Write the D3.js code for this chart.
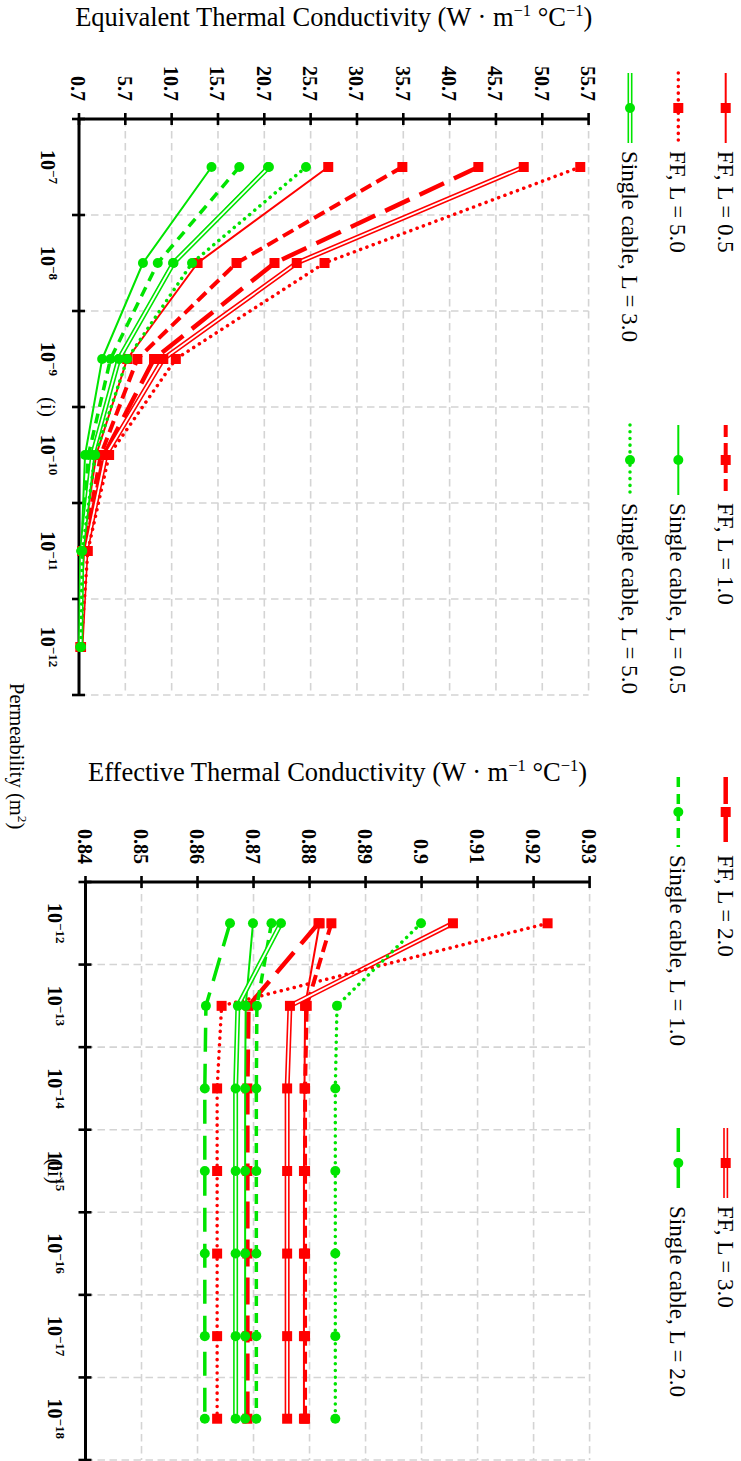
<!DOCTYPE html>
<html>
<head>
<meta charset="utf-8">
<script src="https://cdn.jsdelivr.net/npm/d3@7/dist/d3.min.js"></script>
<style>
html,body{margin:0;padding:0;background:#fff;}
svg{display:block;}
text{font-family:"Liberation Serif","Times New Roman",serif;fill:#000;}
</style>
</head>
<body>
<svg id="chart" width="741" height="1461"></svg>
<script>
// ---------------- DATA ----------------
// permeability categories: 10^exp m^2
const exponents = ["−7","−8","−9","−10","−11","−12","−13","−14","−15","−16","−17","−18"];
const panel1Cats = exponents.slice(0, 6);   // 10^-7 ... 10^-12
const panel2Cats = exponents.slice(5);      // 10^-12 ... 10^-18

const seriesNames = ["FF, L = 0.5", "FF, L = 1.0", "FF, L = 2.0", "FF, L = 3.0", "FF, L = 5.0",
  "Single cable, L = 0.5", "Single cable, L = 1.0", "Single cable, L = 2.0", "Single cable, L = 3.0", "Single cable, L = 5.0"];

// conductivity values, one per permeability category (10^-7 ... 10^-18)
const ff05 = [27.6, 13.5, 5.9, 2.55, 1.05, 0.8818, 0.8792, 0.8791, 0.8790, 0.8790, 0.8790, 0.8790];
const ff10 = [35.6, 17.7, 7.0, 3.05, 1.2, 0.8839, 0.8795, 0.8792, 0.8792, 0.8792, 0.8792, 0.8792];
const ff20 = [43.8, 21.8, 8.8, 3.4, 1.35, 0.8816, 0.8691, 0.8689, 0.8689, 0.8689, 0.8689, 0.8689];
const ff30 = [48.7, 24.2, 9.8, 3.6, 1.45, 0.9056, 0.8765, 0.8760, 0.8760, 0.8760, 0.8760, 0.8760];
const ff50 = [54.8, 27.2, 11.15, 3.95, 1.65, 0.9225, 0.8643, 0.8635, 0.8635, 0.8635, 0.8635, 0.8635];
const sc05 = [15.0, 7.6, 3.2, 1.35, 0.95, 0.8699, 0.8686, 0.8685, 0.8685, 0.8685, 0.8685, 0.8685];
const sc10 = [18.0, 9.2, 4.1, 1.72, 0.97, 0.8732, 0.8706, 0.8705, 0.8705, 0.8705, 0.8705, 0.8705];
const sc20 = [21.1, 10.85, 5.0, 2.12, 0.99, 0.8658, 0.8615, 0.8613, 0.8613, 0.8613, 0.8613, 0.8613];
const sc30 = [21.2, 10.9, 5.0, 2.16, 1.0, 0.8749, 0.8672, 0.8668, 0.8668, 0.8668, 0.8668, 0.8668];
const sc50 = [25.2, 12.9, 5.9, 2.45, 1.05, 0.8999, 0.8849, 0.8846, 0.8846, 0.8846, 0.8846, 0.8846];
const seriesValues = [ff05, ff10, ff20, ff30, ff50, sc05, sc10, sc20, sc30, sc50];

const yTicks1 = [0.7, 5.7, 10.7, 15.7, 20.7, 25.7, 30.7, 35.7, 40.7, 45.7, 50.7, 55.7];
const yTickLabels1 = ["0.7", "5.7", "10.7", "15.7", "20.7", "25.7", "30.7", "35.7", "40.7", "45.7", "50.7", "55.7"];
const yTicks2 = [0.84, 0.85, 0.86, 0.87, 0.88, 0.89, 0.90, 0.91, 0.92, 0.93];
const yTickLabels2 = ["0.84", "0.85", "0.86", "0.87", "0.88", "0.89", "0.9", "0.91", "0.92", "0.93"];

// ---------------- STYLES ----------------
const RED = "#ff0000", GREEN = "#00e400";
const styles = [
  {color: RED, width: 2, marker: "square"},
  {color: RED, width: 4, dash: "12,6", marker: "square"},
  {color: RED, width: 4.5, dash: "27,11", marker: "square"},
  {color: RED, width: 5, double: true, marker: "square"},
  {color: RED, width: 3.5, dotted: true, marker: "square"},
  {color: GREEN, width: 2, marker: "circle"},
  {color: GREEN, width: 3.5, dash: "10,7", marker: "circle"},
  {color: GREEN, width: 3.5, dash: "24,12", marker: "circle"},
  {color: GREEN, width: 5, double: true, marker: "circle"},
  {color: GREEN, width: 3.5, dotted: true, marker: "circle"}
];

// ---------------- FRAME (drawn landscape, rotated 90deg clockwise) ----------------
const svg = d3.select("#chart");
const root = svg.append("g").attr("transform", "translate(741,0) rotate(90)");

function strokePath(sel, st, d) {
  if (st.double) {
    sel.append("path").attr("d", d).attr("fill", "none").attr("stroke", st.color)
      .attr("stroke-width", st.width).attr("stroke-linejoin", "round");
    sel.append("path").attr("d", d).attr("fill", "none").attr("stroke", "#fff")
      .attr("stroke-width", st.width - 3.2).attr("stroke-linejoin", "round");
  } else {
    const p = sel.append("path").attr("d", d).attr("fill", "none").attr("stroke", st.color)
      .attr("stroke-width", st.width).attr("stroke-linejoin", "round");
    if (st.dash) p.attr("stroke-dasharray", st.dash);
    if (st.dotted) p.attr("stroke-dasharray", "0.1,6.6").attr("stroke-linecap", "round");
  }
}
function drawMarker(sel, st, x, y) {
  if (st.marker === "square") {
    sel.append("rect").attr("x", x - 5).attr("y", y - 5).attr("width", 10).attr("height", 10).attr("fill", st.color);
  } else {
    sel.append("circle").attr("cx", x).attr("cy", y).attr("r", 5).attr("fill", st.color);
  }
}
// text with superscript parts: parts = [[text, isSup], ...]
function richText(t, parts, base, sup) {
  let raised = false;
  parts.forEach(([s, isSup]) => {
    const ts = t.append("tspan").text(s);
    if (isSup) { ts.attr("font-size", sup); if (!raised) { ts.attr("dy", -base * 0.38); raised = true; } }
    else { ts.attr("font-size", base); if (raised) { ts.attr("dy", base * 0.38); raised = false; } }
  });
}

function drawPanel(cfg) {
  const g = root.append("g");
  const x = d3.scaleBand().domain(cfg.cats).range([cfg.x0, cfg.x1]).padding(0);
  const y = d3.scaleLinear().domain(cfg.domain).range([cfg.yb, cfg.yt]);
  const bounds = cfg.cats.map(c => x(c)).concat([cfg.x1]);

  // grid
  const grid = g.append("g").attr("stroke", "#d4d4d4").attr("stroke-width", 1.6).attr("stroke-dasharray", "7.5,4.5");
  bounds.forEach(b => grid.append("line").attr("x1", b).attr("x2", b).attr("y1", cfg.yb).attr("y2", cfg.yt));
  cfg.ticks.forEach(t => grid.append("line").attr("x1", cfg.x0).attr("x2", cfg.x1).attr("y1", y(t)).attr("y2", y(t)));

  // value axis labels
  const ya = d3.axisLeft(y).tickValues(cfg.ticks).tickFormat((d, i) => cfg.tickLabels[i]).tickSize(0).tickPadding(18);
  const yg = g.append("g").attr("transform", `translate(${cfg.x0},0)`).call(ya);
  yg.select(".domain").remove();
  yg.selectAll("text").attr("font-family", "Liberation Serif").attr("font-weight", "bold").attr("font-size", 20).attr("dy", "0.36em");

  // category labels
  const xa = d3.axisBottom(x).tickSize(0).tickFormat("");
  const xg = g.append("g").attr("transform", `translate(0,${cfg.yb})`).call(xa);
  xg.select(".domain").remove();
  xg.selectAll(".tick text").each(function(d) {
    const t = d3.select(this).attr("y", cfg.labelOff).attr("dy", 0)
      .attr("font-family", "Liberation Serif").attr("font-weight", "bold").attr("font-size", 20);
    t.append("tspan").text("10");
    t.append("tspan").text(d).attr("font-size", 13).attr("dy", -8);
  });

  // axis lines + crossing ticks
  const ax = g.append("g").attr("stroke", "#000");
  ax.append("line").attr("x1", cfg.x0).attr("x2", cfg.x1).attr("y1", cfg.yb).attr("y2", cfg.yb).attr("stroke-width", 3);
  ax.append("line").attr("x1", cfg.x0).attr("x2", cfg.x0).attr("y1", cfg.yb + 1.5).attr("y2", cfg.yt).attr("stroke-width", 3);
  bounds.forEach(b => ax.append("line").attr("x1", b).attr("x2", b).attr("y1", cfg.yb - 6).attr("y2", cfg.yb + 7).attr("stroke-width", 2.6));
  cfg.ticks.forEach(t => ax.append("line").attr("x1", cfg.x0 - 6).attr("x2", cfg.x0 + 6).attr("y1", y(t)).attr("y2", y(t)).attr("stroke-width", 2.6));

  // series
  const line = d3.line().x(d => x(d.c) + x.bandwidth() / 2).y(d => y(d.v));
  seriesValues.forEach((vals, si) => {
    const st = styles[si];
    const pts = cfg.cats.map((c, i) => ({c, v: vals[cfg.offset + i]}));
    const sg = g.append("g");
    strokePath(sg, st, line(pts));
    pts.forEach(p => drawMarker(sg, st, x(p.c) + x.bandwidth() / 2, y(p.v)));
  });

  // titles
  g.append("text").attr("transform", `translate(${cfg.titleX},${(cfg.yb + cfg.yt) / 2}) rotate(-90)`)
    .attr("text-anchor", "middle")
    .call(t => richText(t, [[cfg.title + " (W · m", false], ["−1", true], [" °C", false], ["−1", true], [")", false]], 26.5, 16.5));
  g.append("text").attr("x", (cfg.x0 + cfg.x1) / 2).attr("y", cfg.yb + cfg.labelOff)
    .attr("text-anchor", "middle").attr("font-size", 21).text(cfg.tag);
}

drawPanel({cats: panel1Cats, offset: 0, x0: 119, x1: 695, yb: 662, yt: 152.4, domain: [0.7, 55.7],
  ticks: yTicks1, tickLabels: yTickLabels1, labelOff: 38, titleX: 26,
  title: "Equivalent Thermal Conductivity", tag: "(i)"});
drawPanel({cats: panel2Cats, offset: 5, x0: 882, x1: 1460, yb: 655.5, yt: 151.4, domain: [0.84, 0.93],
  ticks: yTicks2, tickLabels: yTickLabels2, labelOff: 38, titleX: 781,
  title: "Effective Thermal Conductivity", tag: "(ii)"});

// x-axis title
root.append("text").attr("x", 683).attr("y", 731).attr("text-anchor", "start")
  .call(t => richText(t, [["Permeability (m", false], ["2", true], [")", false]], 20.5, 13.5));

// legend
const legRows = [15.3, 62.7, 111];
const legCols = [73, 425, 777, 1128];
const leg = root.append("g");
seriesNames.forEach((name, i) => {
  const st = styles[i];
  const lx = legCols[i % 4], ly = legRows[Math.floor(i / 4)];
  const lg = leg.append("g");
  strokePath(lg, st, d3.line()([[lx, ly], [lx + 70, ly]]));
  drawMarker(lg, st, lx + 35, ly);
  lg.append("text").attr("x", lx + 78).attr("y", ly).attr("dy", "0.35em").attr("font-size", 23).text(name);
});
</script>
</body>
</html>
